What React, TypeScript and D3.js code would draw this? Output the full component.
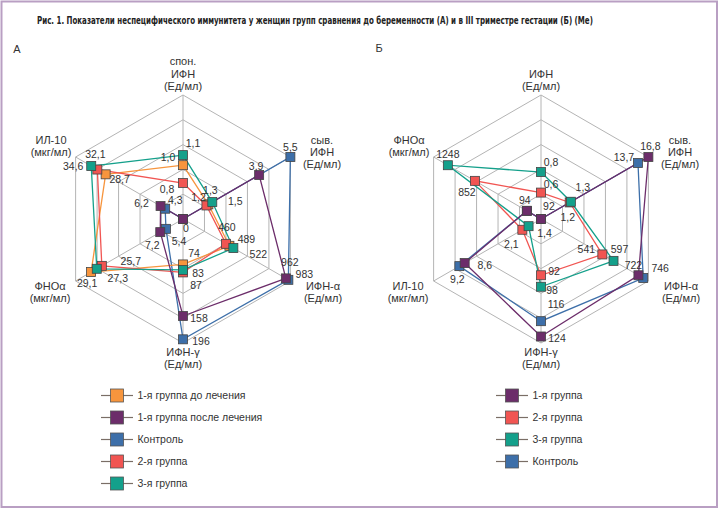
import { useEffect, useRef } from "react";
import * as d3 from "d3";

// ---- chart A: before pregnancy ----
const axesA = [["спон.", "ИФН", "(Ед/мл)"], ["сыв.", "ИФН", "(Ед/мл)"], ["ИФН-α", "(Ед/мл)"], ["ИФН-γ", "(Ед/мл)"], ["ФНОα", "(мкг/мл)"], ["ИЛ-10", "(мкг/мл)"]];
const domainsA = [[0, 1.59], [0, 5.5], [100, 1000], [0, 202], [0, 34], [-3, 41]];
const exponentsA = [1.8, 1, 1, 1, 1, 1];
const decimalsA = [1, 1, 0, 0, 1, 1];
const groupsA = ["1-я группа до лечения", "1-я группа после лечения", "Контроль", "2-я группа", "3-я группа"];
const beforeTreatA = [1.0, 1.3, 489, 74, 29.1, 28.7];
const afterTreatA = [0, 3.9, 962, 158, 7.2, 6.2];
const controlA = [0, 5.5, 983, 196, 5.4, 4.3];
const group2A = [0.8, 1.2, 460, 87, 25.7, 32.1];
const group3A = [1.1, 1.5, 522, 83, 27.3, 34.6];

// ---- chart Б: III trimester ----
const axesB = [["ИФН", "(Ед/мл)"], ["сыв.", "ИФН", "(Ед/мл)"], ["ИФН-α", "(Ед/мл)"], ["ИФН-γ", "(Ед/мл)"], ["ИЛ-10", "(мкг/мл)"], ["ФНОα", "(мкг/мл)"]];
const domainsB = [[0, 1.3], [0, 16.8], [233, 772], [62.6, 127.4], [0, 12.1], [-114, 1456]];
const exponentsB = [2, 0.5, 1, 1, 1, 1];
const decimalsB = [1, 1, 0, 0, 1, 0];
const groupsB = ["1-я группа", "2-я группа", "3-я группа", "Контроль"];
const group1B = [0, 16.8, 722, 124, 8.6, 94];
const group2B = [0.6, 1.2, 541, 92, 2.1, 852];
const group3B = [0.8, 1.3, 597, 98, 1.4, 1248];
const controlB = [0, 13.7, 746, 116, 9.2, 92];

const TITLE = "Рис. 1. Показатели неспецифического иммунитета у женщин групп сравнения до беременности (А) и в III триместре гестации (Б) (Ме)";

const C = { orange: "#f7953d", purple: "#6c2d6a", blue: "#3d6fa9", red: "#f15552", teal: "#14a08b" };

// value-label nudges (dx, dy from the marker), null = no label
type N = [number, number] | null;
const nudgeA: Record<string, N[]> = {
  orange: [[-15, -8], [2, -14], [17, -6], [11, -11], [-4, 11], [14, 5]],
  purple: [[3, 9], [-3, -9], [4, -16], [16, 2], [-8, 13], [-19, -3]],
  blue: [null, [0, -10], [16, -6], [18, 2], [13, 12], [10, -8]],
  red: [[-16, 6], [-8, -8], [1, -16], [13, 13], [29, -5], [-2, -15]],
  teal: [[10, -12], [23, -1], [25, 6], [15, 3], [21, 10], [-18, 0]],
};
const nudgeB: Record<string, N[]> = {
  purple: [null, [2, -11], [-5, -10], [16, 2], [20, 2], [-2, -10]],
  red: [[10, -8], [-2, 15], [-16, -5], [13, -4], [-11, 15], [-8, 11]],
  teal: [[10, -10], [12, -14], [6, -12], [11, 4], [16, 7], [0, -11]],
  blue: [null, [-14, -6], [17, -10], [15, -17], [-2, 13], [22, -5]],
};

const R = 124;
const FONT = "'Liberation Sans', Arial, sans-serif";
const TXT = "#333";
const ru = d3.formatLocale({ decimal: ",", thousands: " ", grouping: [3], currency: ["", ""] });
const fmtVal = (v: number, dec: number) => (v === 0 ? "0" : ru.format(`.${dec}f`)(v));

// axis-name anchors relative to the centre
const axisLabelPos: [number, number][] = [[0, -133], [139, -79], [140, 67], [0, 133], [-133, 67], [-132, -79]];

type S = { name: string; color: string; values: number[]; nudge: N[] };

function drawRadar(svg: any, cx: number, cy: number, axes: string[][], domains: number[][], exps: number[], decimals: number[], series: S[], order: string[]) {
  const g = svg.append("g").attr("transform", `translate(${cx},${cy})`);
  const ang = (i: number) => (i * Math.PI) / 3;
  // each axis has its own scale
  const scales = domains.map((d, i) => d3.scalePow().exponent(exps[i]).domain(d).range([0, R]));

  const ring = d3.lineRadial<number>().angle((_, i) => ang(i)).radius((d) => d).curve(d3.curveLinearClosed);
  d3.range(1, 6).forEach((k) => {
    g.append("path").attr("d", ring(d3.range(6).map(() => (k * R) / 5)))
      .attr("fill", "none").attr("stroke", "#b4b4b4").attr("stroke-width", 1);
  });
  axes.forEach((_, i) => {
    const [x, y] = d3.pointRadial(ang(i), R);
    g.append("line").attr("x1", 0).attr("y1", 0).attr("x2", x).attr("y2", y)
      .attr("stroke", "#b4b4b4").attr("stroke-width", 1);
  });

  // axis names
  axes.forEach((lines, i) => {
    const [ax, ay] = axisLabelPos[i];
    const y0 = i === 0 ? ay - (lines.length - 1) * 12.3 : ay;
    const t = g.append("text").attr("text-anchor", "middle").attr("font-family", FONT)
      .attr("font-size", 11).attr("fill", TXT);
    lines.forEach((s, k) => t.append("tspan").attr("x", ax).attr("y", y0 + k * 12.3).attr("dy", "0.35em").text(s));
  });

  const line = d3.lineRadial<number>().angle((_, i) => ang(i)).radius((v, i) => scales[i](v)).curve(d3.curveLinearClosed);
  const byName = (n: string) => series.find((s) => s.name === n)!;
  order.forEach((n) => {
    const s = byName(n);
    g.append("path").attr("d", line(s.values)).attr("fill", "none").attr("stroke", s.color).attr("stroke-width", 1.3);
  });
  order.forEach((n) => {
    const s = byName(n);
    s.values.forEach((v, i) => {
      const [x, y] = d3.pointRadial(ang(i), scales[i](v));
      g.append("rect").attr("x", x - 4.5).attr("y", y - 4.5).attr("width", 9).attr("height", 9)
        .attr("fill", s.color).attr("stroke", "#444").attr("stroke-width", 0.8);
    });
  });
  series.forEach((s) => {
    s.values.forEach((v, i) => {
      const nd = s.nudge[i];
      if (!nd) return;
      const [x, y] = d3.pointRadial(ang(i), scales[i](v));
      g.append("text").attr("x", x + nd[0]).attr("y", y + nd[1]).attr("dy", "0.35em")
        .attr("text-anchor", "middle").attr("font-family", FONT).attr("font-size", 10.5)
        .attr("fill", TXT).text(fmtVal(v, decimals[i]));
    });
  });
}

function drawLegend(svg: any, x: number, y: number, names: string[], colors: string[]) {
  names.forEach((n, i) => {
    const yy = y + i * 22;
    svg.append("line").attr("x1", x - 16).attr("x2", x + 16).attr("y1", yy).attr("y2", yy)
      .attr("stroke", "#7a6e66").attr("stroke-width", 1.2);
    svg.append("rect").attr("x", x - 6.5).attr("y", yy - 6.5).attr("width", 13).attr("height", 13)
      .attr("fill", colors[i]).attr("stroke", "#555").attr("stroke-width", 0.8);
    svg.append("text").attr("x", x + 20.5).attr("y", yy).attr("dy", "0.35em")
      .attr("font-family", FONT).attr("font-size", 10.5).attr("fill", TXT).text(n);
  });
}

export default function App() {
  const ref = useRef<SVGSVGElement>(null);

  useEffect(() => {
    document.body.style.margin = "0";
    const svg = d3.select(ref.current);
    svg.selectAll("*").remove();

    svg.append("rect").attr("width", 720).attr("height", 509).attr("fill", "#fff");
    svg.append("rect").attr("x", 1.5).attr("y", 1.5).attr("width", 715.5).attr("height", 505.5)
      .attr("fill", "none").attr("stroke", "#b99fc3").attr("stroke-width", 2);

    // title: squeezed horizontally to the narrow face of the original
    const title = svg.append("text").attr("x", 0).attr("y", 0)
      .attr("font-family", "'DejaVu Sans Condensed', 'Liberation Sans', sans-serif")
      .attr("font-weight", "bold").attr("font-size", 11).attr("fill", "#222").text(TITLE);
    const natural = (title.node() as SVGTextElement).getComputedTextLength() || 557;
    title.attr("transform", `translate(37,24) scale(${557 / natural},1)`);

    svg.append("text").attr("x", 17).attr("y", 49).attr("dy", "0.35em").attr("text-anchor", "middle")
      .attr("font-family", FONT).attr("font-size", 11).attr("fill", TXT).text("А");
    svg.append("text").attr("x", 379).attr("y", 48).attr("dy", "0.35em").attr("text-anchor", "middle")
      .attr("font-family", FONT).attr("font-size", 11).attr("fill", TXT).text("Б");

    const colorsA = [C.orange, C.purple, C.blue, C.red, C.teal];
    const valsA = [beforeTreatA, afterTreatA, controlA, group2A, group3A];
    const keysA = ["orange", "purple", "blue", "red", "teal"];
    const seriesA: S[] = groupsA.map((n, i) => ({ name: n, color: colorsA[i], values: valsA[i], nudge: nudgeA[keysA[i]] }));
    drawRadar(svg, 183, 219, axesA, domainsA, exponentsA, decimalsA, seriesA,
      [groupsA[2], groupsA[0], groupsA[3], groupsA[4], groupsA[1]]);

    const colorsB = [C.purple, C.red, C.teal, C.blue];
    const valsB = [group1B, group2B, group3B, controlB];
    const keysB = ["purple", "red", "teal", "blue"];
    const seriesB: S[] = groupsB.map((n, i) => ({ name: n, color: colorsB[i], values: valsB[i], nudge: nudgeB[keysB[i]] }));
    drawRadar(svg, 541, 219, axesB, domainsB, exponentsB, decimalsB, seriesB,
      [groupsB[3], groupsB[1], groupsB[2], groupsB[0]]);

    drawLegend(svg, 117, 395.5, groupsA, colorsA);
    drawLegend(svg, 512, 395.5, groupsB, colorsB);
  }, []);

  return <svg ref={ref} width={720} height={509} style={{ display: "block" }} />;
}
